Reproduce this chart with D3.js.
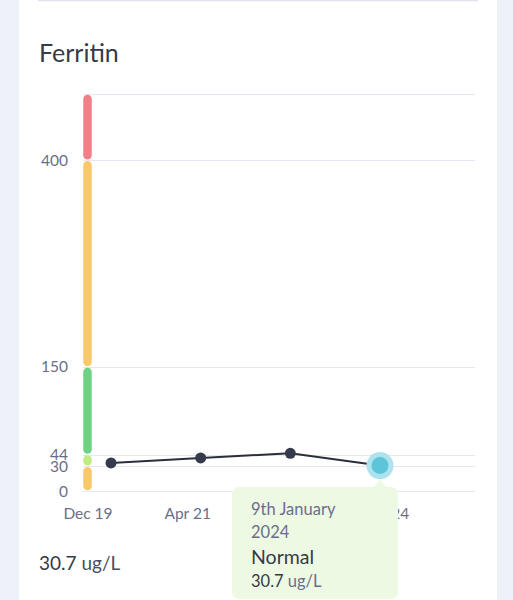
<!DOCTYPE html>
<html><head><meta charset="utf-8">
<script src="https://cdn.jsdelivr.net/npm/d3@7/dist/d3.min.js"></script>
<style>
html,body{margin:0;padding:0;background:#eef1f7;}
svg{display:block;font-family:"Lato","Open Sans",sans-serif;}
</style></head>
<body><svg id="c" width="513" height="600"></svg>
<script>
const title = "Ferritin";
const unit = "ug/L";
const pointDates = ["2019-12-10","2021-04-15","2022-08-20","2024-01-09"];
const pointValues = [34, 40, 45.5, 30.7];
const xLabels = ["Dec 19","Apr 21","Aug 22","Jan 24"];
const yTicks = [0, 30, 44, 150, 400];
const yMax = 480;
const rangeFrom = [400, 150, 44, 30, 0];
const rangeTo = [480, 400, 150, 44, 30];
const rangeColors = ["#f07f88","#f7c86c","#6dd283","#c1eb87","#f7c86c"];
const tipDate = ["9th January","2024"];
const tipStatus = "Normal";
const tipValue = "30.7";

const svg = d3.select("#c");
svg.append("rect").attr("x",0).attr("y",0).attr("width",513).attr("height",600).attr("fill","#eef1f7");
svg.append("rect").attr("x",19).attr("y",0).attr("width",478).attr("height",600).attr("fill","#ffffff");
svg.append("line").attr("x1",38).attr("x2",478).attr("y1",0.5).attr("y2",0.5).attr("stroke","#e3e3ee").attr("stroke-width",1.5);

svg.append("text").attr("x",39).attr("y",62).attr("font-size",25).attr("fill","#363a48").text(title);

const y = d3.scaleLinear().domain([0,yMax]).range([491,94]);
const xPts = d3.scalePoint().domain(pointDates).range([111,380]);
const xLab = d3.scalePoint().domain(xLabels).range([88,387]);

svg.append("g").selectAll("line").data(yTicks.concat([yMax])).join("line")
  .attr("x1",83).attr("x2",475).attr("y1",d=>Math.round(y(d))+0.5).attr("y2",d=>Math.round(y(d))+0.5)
  .attr("stroke","#e7e7f1").attr("stroke-width",1.2);

const yOff = {0:6, 30:6, 44:5, 150:5, 400:6};
svg.append("g").selectAll("text").data(yTicks).join("text")
  .attr("x",68).attr("y",d=>y(d)+yOff[d])
  .attr("text-anchor","end").attr("font-size",15.5).attr("fill","#6a6e8c").text(d=>d);

const segs = rangeFrom.map((f,i)=>({from:f,to:rangeTo[i],color:rangeColors[i]}));
svg.append("g").selectAll("line").data(segs).join("line")
  .attr("x1",87.5).attr("x2",87.5)
  .attr("y1",d=>y(d.to)+5).attr("y2",d=>y(d.from)-5)
  .attr("stroke",d=>d.color).attr("stroke-width",8.5).attr("stroke-linecap","round");

svg.append("g").selectAll("text").data(xLabels).join("text")
  .attr("x",d=>xLab(d)).attr("y",519).attr("text-anchor","middle")
  .attr("font-size",15.5).attr("fill","#6a6e8c").text(d=>d);

const pts = pointDates.map((d,i)=>({d,v:pointValues[i]}));
svg.append("path").datum(pts)
  .attr("d",d3.line().x(p=>xPts(p.d)).y(p=>y(p.v)))
  .attr("fill","none").attr("stroke","#2b2e3b").attr("stroke-width",2);
const last = pts[pts.length-1];
svg.append("g").selectAll("circle").data(pts.slice(0,-1)).join("circle")
  .attr("cx",p=>xPts(p.d)).attr("cy",p=>y(p.v)).attr("r",5.5).attr("fill","#363a4d");
svg.append("circle").attr("cx",xPts(last.d)).attr("cy",y(last.v)).attr("r",13.5).attr("fill","#ade3ed");
svg.append("circle").attr("cx",xPts(last.d)).attr("cy",y(last.v)).attr("r",8.5).attr("fill","#5cc5d9");

const tx = xPts(last.d);
const tip = svg.append("g");
tip.append("rect").attr("x",232).attr("y",487).attr("width",166).attr("height",112).attr("rx",7).attr("fill","#eef9e4");
tip.append("path").attr("d",`M${tx-7},488 L${tx},479 L${tx+7},488 Z`).attr("fill","#eef9e4");
tip.append("text").attr("x",251).attr("y",515).attr("font-size",16.5).attr("fill","#6a6e8c").text(tipDate[0]);
tip.append("text").attr("x",251).attr("y",538).attr("font-size",16.5).attr("fill","#6a6e8c").text(tipDate[1]);
tip.append("text").attr("x",251).attr("y",564).attr("font-size",19.5).attr("fill","#363a48").text(tipStatus);
const tv = tip.append("text").attr("x",251).attr("y",587).attr("font-size",16.5);
tv.append("tspan").attr("fill","#363a48").text(tipValue+" ");
tv.append("tspan").attr("fill","#6a6e8c").text(unit);

const bv = svg.append("text").attr("x",39).attr("y",570).attr("font-size",19);
bv.append("tspan").attr("fill","#363a48").text(tipValue+" ");
bv.append("tspan").attr("fill","#4a4e5e").text(unit);
</script></body></html>
